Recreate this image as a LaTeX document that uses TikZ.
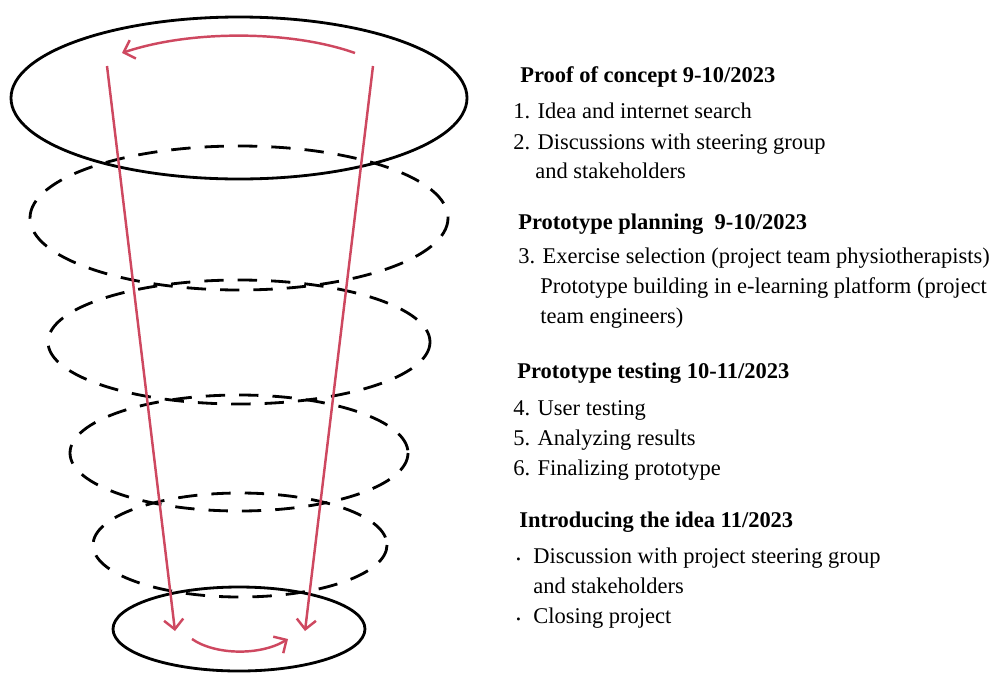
\documentclass[tikz,border=0pt]{standalone}
\usepackage{fontspec}
\setmainfont{Liberation Serif}
\usetikzlibrary{arrows.meta}
\definecolor{cycred}{RGB}{206,72,96}
\newcommand{\bul}{\makebox[0.34cm][l]{\scriptsize\textbullet}}
\tikzset{
    ring/.style={line width=1.6pt, black},
    dashring/.style={ring, dash pattern=on 11pt off 8pt},
    flow/.style={line width=1.4pt, cycred, -{Straight Barb[length=5.5pt,width=11pt,line width=1.4pt]}},
    head/.style={anchor=base west, inner sep=0pt, font=\fontsize{12.8}{15}\selectfont\bfseries},
    item/.style={anchor=base west, inner sep=0pt, font=\fontsize{12.8}{15}\selectfont}
}

\begin{document}
\begin{tikzpicture}[x=0.02cm,y=-0.02cm]
    \useasboundingbox (0,0) rectangle (996,673);
    % rings of the funnel
    \draw[ring] (239,98) ellipse [x radius=228, y radius=81];
    \draw[dashring] (239,218) ellipse [x radius=209, y radius=72];
    \draw[dashring] (239,342) ellipse [x radius=191, y radius=62];
    \draw[dashring] (239,453) ellipse [x radius=169, y radius=58];
    \draw[dashring] (240,545) ellipse [x radius=147, y radius=52];
    \draw[ring] (239,629) ellipse [x radius=126, y radius=42];
    % red flow
    \coordinate (lt) at (107,66);
    \coordinate (lb) at (175,631);
    \coordinate (rt) at (373,66);
    \coordinate (rb) at (305,631);
    \coordinate (tr) at (355,53);
    \coordinate (tl) at (122,53);
    \coordinate (bl) at (192,639);
    \coordinate (br) at (288,639);
    \draw[flow] (lt) -- (lb);
    \draw[flow] (rt) -- (rb);
    \draw[flow] (tr) .. controls (290,30) and (190,30) .. (tl);
    \draw[flow] (bl) .. controls (215,655) and (260,656) .. (br);
    % texts
    \node[head] (poc) at (520,82) {Proof of concept 9-10/2023};
    \node[item] (poc1) at (513,118) {1. Idea and internet search};
    \node[item] (poc2) at (513,149) {2. Discussions with steering group};
    \node[item] (poc2b) at (535,178) {and stakeholders};
    \node[head] (plan) at (518,229) {Prototype planning \ 9-10/2023};
    \node[item] (plan3) at (518,263) {3. Exercise selection (project team physiotherapists)};
    \node[item] (plan3b) at (540,293) {Prototype building in e-learning platform (project};
    \node[item] (plan3c) at (540,323) {team engineers)};
    \node[head] (test) at (517,378) {Prototype testing 10-11/2023};
    \node[item] (test4) at (513,415) {4. User testing};
    \node[item] (test5) at (513,445) {5. Analyzing results};
    \node[item] (test6) at (513,475) {6. Finalizing prototype};
    \node[head] (intro) at (519,527) {Introducing the idea 11/2023};
    \node[item] (intro1) at (516,563) {\bul Discussion with project steering group};
    \node[item] (intro1b) at (533,593) {and stakeholders};
    \node[item] (intro2) at (516,623) {\bul Closing project};
\end{tikzpicture}
\end{document}
